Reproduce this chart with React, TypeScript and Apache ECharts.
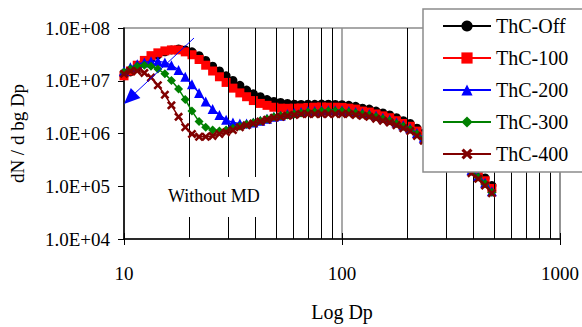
import React, { useEffect, useRef } from "react";
import * as echarts from "echarts";

const seriesNames = ["ThC-Off", "ThC-100", "ThC-200", "ThC-300", "ThC-400"];
const seriesColors = ["#000000", "#ff0000", "#0000ff", "#008000", "#800000"];

const diameters = [10.0, 10.7, 11.5, 12.4, 13.3, 14.3, 15.4, 16.5, 17.8, 19.1, 20.5, 22.1, 23.7, 25.5, 27.4, 29.4, 31.6, 34.0, 36.5, 39.2, 42.2, 45.3, 48.7, 52.3, 56.2, 60.4, 64.9, 69.8, 75.0, 80.6, 86.6, 93.1, 100, 107.5, 115.5, 124.1, 133.4, 143.3, 154.0, 165.5, 177.8, 191.1, 205.4, 220.7, 237.1, 254.8, 273.8, 294.3, 316.2, 339.8, 365.2, 392.4, 421.7, 453.2, 487.0];

const thcOff = [1.24e7, 1.47e7, 1.81e7, 2.23e7, 2.64e7, 3.11e7, 3.53e7, 3.84e7, 4.0e7, 3.84e7, 3.53e7, 2.99e7, 2.43e7, 1.89e7, 1.53e7, 1.24e7, 1.01e7, 8.2e6, 6.66e6, 5.64e6, 4.98e6, 4.39e6, 4.04e6, 3.87e6, 3.72e6, 3.6e6, 3.55e6, 3.6e6, 3.58e6, 3.62e6, 3.6e6, 3.55e6, 3.52e6, 3.42e6, 3.28e6, 3.02e6, 2.9e6, 2.66e6, 2.45e6, 2.25e6, 1.99e6, 1.75e6, 1.55e6, 1.26e6, 1.02e6, 8.65e5, 6.73e5, 5.47e5, 4.62e5, 3.92e5, 3.18e5, 2.48e5, 1.93e5, 1.44e5, 1.03e5];
const thc100 = [1.24e7, 1.53e7, 1.97e7, 2.43e7, 2.99e7, 3.38e7, 3.68e7, 3.84e7, 3.84e7, 3.53e7, 3.11e7, 2.53e7, 1.97e7, 1.53e7, 1.19e7, 9.3e6, 7.24e6, 5.88e6, 4.98e6, 4.21e6, 3.72e6, 3.42e6, 3.15e6, 3.02e6, 3.0e6, 3.02e6, 3.05e6, 3.12e6, 3.15e6, 3.18e6, 3.15e6, 3.15e6, 3.12e6, 3.02e6, 2.9e6, 2.66e6, 2.55e6, 2.35e6, 2.16e6, 1.99e6, 1.75e6, 1.55e6, 1.37e6, 1.11e6, 9.0e5, 7.63e5, 5.94e5, 4.82e5, 4.08e5, 3.45e5, 2.81e5, 2.18e5, 1.7e5, 1.27e5, 9.1e4];
const thc200 = [1.53e7, 1.81e7, 2.05e7, 2.23e7, 2.33e7, 2.33e7, 2.23e7, 1.97e7, 1.6e7, 1.19e7, 8.55e6, 5.88e6, 4.04e6, 2.9e6, 2.25e6, 1.83e6, 1.61e6, 1.55e6, 1.55e6, 1.61e6, 1.75e6, 1.91e6, 2.07e6, 2.16e6, 2.35e6, 2.45e6, 2.55e6, 2.66e6, 2.66e6, 2.77e6, 2.77e6, 2.77e6, 2.77e6, 2.66e6, 2.55e6, 2.45e6, 2.35e6, 2.16e6, 1.99e6, 1.83e6, 1.61e6, 1.43e6, 1.26e6, 1.02e6, 8.3e5, 6.73e5, 5.47e5, 4.44e5, 3.76e5, 3.18e5, 2.58e5, 2.01e5, 1.57e5, 1.17e5, 8.0e4];
const thc300 = [1.47e7, 1.67e7, 1.89e7, 1.97e7, 1.89e7, 1.67e7, 1.35e7, 1.01e7, 6.95e6, 4.39e6, 2.66e6, 1.68e6, 1.31e6, 1.16e6, 1.11e6, 1.16e6, 1.26e6, 1.37e6, 1.49e6, 1.61e6, 1.75e6, 1.91e6, 2.07e6, 2.16e6, 2.25e6, 2.35e6, 2.45e6, 2.55e6, 2.55e6, 2.66e6, 2.66e6, 2.66e6, 2.66e6, 2.55e6, 2.45e6, 2.35e6, 2.25e6, 2.07e6, 1.91e6, 1.75e6, 1.55e6, 1.37e6, 1.21e6, 9.8e5, 7.95e5, 6.45e5, 5.24e5, 4.26e5, 3.6e5, 3.05e5, 2.48e5, 1.93e5, 1.5e5, 1.12e5, 7.7e4];
const thc400 = [1.35e7, 1.53e7, 1.53e7, 1.41e7, 1.15e7, 8.2e6, 5.41e6, 3.42e6, 2.07e6, 1.31e6, 9.8e5, 8.65e5, 8.65e5, 9.0e5, 9.8e5, 1.06e6, 1.16e6, 1.31e6, 1.43e6, 1.55e6, 1.68e6, 1.83e6, 1.99e6, 2.07e6, 2.16e6, 2.25e6, 2.35e6, 2.35e6, 2.35e6, 2.35e6, 2.35e6, 2.35e6, 2.35e6, 2.35e6, 2.25e6, 2.16e6, 2.07e6, 1.91e6, 1.75e6, 1.61e6, 1.43e6, 1.26e6, 1.11e6, 9.0e5, 7.31e5, 5.94e5, 4.82e5, 3.92e5, 3.31e5, 2.81e5, 2.28e5, 1.77e5, 1.38e5, 1.03e5, 7.4e4];

const minorGridX = [20, 30, 40, 50, 60, 70, 80, 90, 200, 300, 400, 500, 600, 700, 800, 900];

const FONT = "'Liberation Serif', 'DejaVu Serif', serif";
const X_SYMBOL = "path://M0,2 L2,0 L5,3 L8,0 L10,2 L7,5 L10,8 L8,10 L5,7 L2,10 L0,8 L3,5 Z";

export default function App() {
  const ref = useRef<HTMLDivElement>(null);

  useEffect(() => {
    if (!ref.current) return;
    const chart = echarts.init(ref.current, undefined, { renderer: "svg" });
    const allValues = [thcOff, thc100, thc200, thc300, thc400];
    const symbols = ["circle", "rect", "triangle", "diamond", X_SYMBOL];
    const sizes = [9, 9, 10, 9, 9];

    const dataSeries = seriesNames.map((name, k) => ({
      name,
      type: "line",
      z: 3 + k,
      xAxisIndex: 0,
      yAxisIndex: 0,
      data: diameters.map((d, i) => [d, allValues[k][i]]),
      symbol: symbols[k],
      symbolSize: sizes[k],
      showSymbol: true,
      lineStyle: { color: seriesColors[k], width: 1.5 },
      itemStyle: { color: seriesColors[k] },
    }));

    const option: any = {
      animation: false,
      backgroundColor: "#ffffff",
      grid: {
        left: 117,
        top: 28,
        width: 443,
        height: 221,
        show: true,
        borderColor: "#8c8c8c",
        borderWidth: 1.5,
        backgroundColor: "transparent",
      },
      xAxis: [
        {
          type: "log",
          logBase: 10,
          min: 10,
          max: 1000,
          name: "Log Dp",
          nameLocation: "middle",
          nameGap: 63,
          nameTextStyle: { fontFamily: FONT, fontSize: 20, color: "#000" },
          axisLine: { show: true, lineStyle: { color: "#000", width: 1.5 } },
          axisTick: { show: true, length: 6, lineStyle: { color: "#000" } },
          axisLabel: {
            fontFamily: FONT,
            fontSize: 19,
            color: "#000",
            margin: 25,
            formatter: (v: number) => String(Math.round(v)),
          },
          splitLine: { show: true, lineStyle: { color: "#8c8c8c", width: 1.5 } },
        },
        {
          type: "log",
          logBase: 10,
          min: 10,
          max: 1000,
          position: "bottom",
          axisLine: { show: false },
          axisTick: { show: true, inside: true, length: 6, lineStyle: { color: "#000" } },
          axisLabel: { show: false },
          splitLine: { show: false },
        },
      ],
      yAxis: {
        type: "log",
        logBase: 10,
        min: 1e4,
        max: 1e8,
        name: "dN / d bg Dp",
        nameLocation: "middle",
        nameGap: 97,
        nameRotate: 90,
        nameTextStyle: { fontFamily: FONT, fontSize: 19, color: "#000" },
        axisLine: { show: true, lineStyle: { color: "#000", width: 1.5 } },
        axisTick: { show: true, length: 6, lineStyle: { color: "#000" } },
        axisLabel: {
          fontFamily: FONT,
          fontSize: 19,
          color: "#000",
          margin: 14,
          formatter: (v: number) => "1.0E+" + String(Math.round(Math.log10(v))).padStart(2, "0"),
        },
        splitLine: { show: false },
      },
      legend: {
        data: seriesNames,
        orient: "vertical",
        left: 423,
        top: 9,
        padding: [7, 30, 8, 19],
        itemGap: 12,
        itemWidth: 48,
        itemHeight: 14,
        backgroundColor: "#ffffff",
        borderColor: "#8c8c8c",
        borderWidth: 1.5,
        borderRadius: 0,
        textStyle: { fontFamily: FONT, fontSize: 20, color: "#000" },
        z: 10,
      },
      graphic: [
        {
          type: "text",
          left: 164,
          top: 177,
          z: 20,
          style: {
            text: "Without MD",
            font: "18px " + FONT,
            fill: "#000",
            backgroundColor: "#ffffff",
            padding: [10, 4, 12, 4],
          },
        },
        {
          type: "line",
          z: 20,
          shape: { x1: 194, y1: 38, x2: 132, y2: 96 },
          style: { stroke: "#0000ff", lineWidth: 1 },
        },
        {
          type: "polygon",
          z: 20,
          shape: { points: [[124, 104], [140.4, 98.1], [130.8, 87.9]] },
          style: { fill: "#0000ff" },
        },
      ],
      series: [
        {
          name: "grid-lines",
          type: "line",
          data: [],
          z: 1,
          xAxisIndex: 0,
          yAxisIndex: 0,
          silent: true,
          markLine: {
            silent: true,
            symbol: ["none", "none"],
            label: { show: false },
            lineStyle: { color: "#000", width: 1, type: "solid" },
            data: minorGridX.map((v) => ({ xAxis: v })),
          },
        },
        ...dataSeries,
      ],
    };
    chart.setOption(option);
    return () => chart.dispose();
  }, []);

  return (
    <div
      ref={ref}
      style={{ position: "fixed", left: 0, top: 0, width: 582, height: 327, background: "#fff" }}
    />
  );
}
